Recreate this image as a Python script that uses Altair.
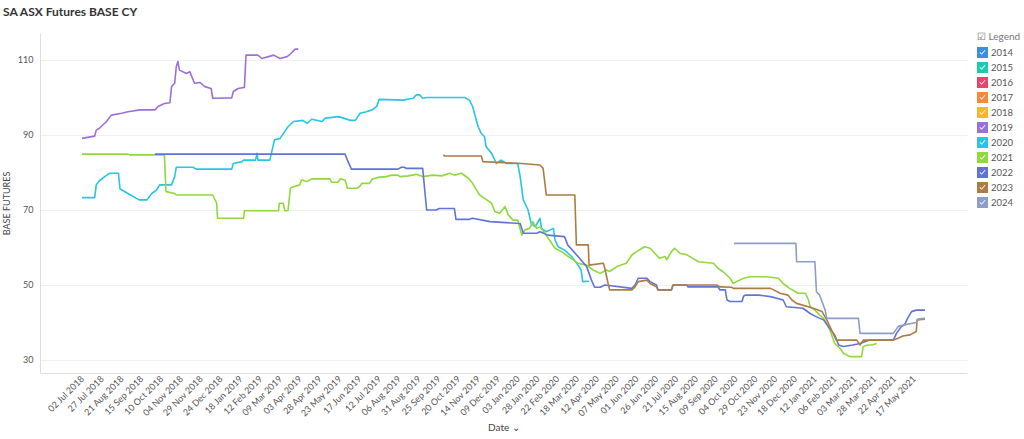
import altair as alt
import pandas as pd

YEARS = ["2014", "2015", "2016", "2017", "2018", "2019", "2020", "2021", "2022", "2023", "2024"]
COLORS = ["#3a8ee6", "#1fc9b0", "#e8456b", "#f58a3c", "#fbb626", "#9b70d8",
          "#26c6e4", "#8fd93e", "#6273d8", "#ad7c45", "#8d9dc7"]

TICK_LABELS = ["2018-07-02", "2018-07-27", "2018-08-21", "2018-09-15", "2018-10-10", "2018-11-04",
               "2018-11-29", "2018-12-24", "2019-01-18", "2019-02-12", "2019-03-09", "2019-04-03",
               "2019-04-28", "2019-05-23", "2019-06-17", "2019-07-12", "2019-08-06", "2019-08-31",
               "2019-09-25", "2019-10-20", "2019-11-14", "2019-12-09", "2020-01-03", "2020-01-28",
               "2020-02-22", "2020-03-18", "2020-04-12", "2020-05-07", "2020-06-01", "2020-06-26",
               "2020-07-21", "2020-08-15", "2020-09-09", "2020-10-04", "2020-10-29", "2020-11-23",
               "2020-12-18", "2021-01-12", "2021-02-06", "2021-03-03", "2021-03-28", "2021-04-22",
               "2021-05-17"]
Y_TICKS = [30, 50, 70, 90, 110]

S2019 = [("2018-07-02", 89.1), ("2018-07-18", 89.7), ("2018-07-20", 91.3), ("2018-07-24", 91.8),
         ("2018-08-02", 93.6), ("2018-08-08", 95.3), ("2018-08-21", 95.8), ("2018-08-29", 96.2),
         ("2018-09-13", 96.7), ("2018-10-02", 96.7), ("2018-10-06", 97.6), ("2018-10-14", 98.4),
         ("2018-10-21", 98.6), ("2018-10-23", 102.9), ("2018-10-27", 103.8), ("2018-10-29", 108.2),
         ("2018-10-31", 109.6), ("2018-11-02", 107.3), ("2018-11-11", 106.4), ("2018-11-15", 106.9),
         ("2018-11-21", 103.8), ("2018-11-28", 104.0), ("2018-12-04", 102.9), ("2018-12-12", 102.4),
         ("2018-12-14", 99.8), ("2019-01-07", 99.9), ("2019-01-09", 101.6), ("2019-01-15", 102.4),
         ("2019-01-23", 102.7), ("2019-01-25", 111.3), ("2019-02-09", 111.3), ("2019-02-14", 110.4),
         ("2019-03-01", 111.3), ("2019-03-09", 110.4), ("2019-03-18", 110.9), ("2019-03-22", 111.6),
         ("2019-03-28", 112.9), ("2019-04-01", 112.9)]

S2020 = [("2018-07-02", 73.3), ("2018-07-18", 73.3), ("2018-07-20", 76.7), ("2018-07-24", 77.8),
         ("2018-08-01", 79.1), ("2018-08-06", 79.8), ("2018-08-17", 79.8), ("2018-08-19", 75.6),
         ("2018-08-29", 74.4), ("2018-09-12", 72.7), ("2018-09-22", 72.7), ("2018-09-28", 74.4),
         ("2018-10-04", 75.3), ("2018-10-08", 76.7), ("2018-10-23", 76.7), ("2018-10-27", 78.9),
         ("2018-10-29", 81.4), ("2018-11-19", 81.4), ("2018-11-23", 80.9), ("2019-01-07", 80.9),
         ("2019-01-09", 82.4), ("2019-01-20", 82.9), ("2019-01-22", 83.3), ("2019-02-06", 83.3),
         ("2019-02-08", 85.1), ("2019-02-09", 83.3), ("2019-02-24", 83.3), ("2019-02-26", 85.1),
         ("2019-03-02", 88.7), ("2019-03-09", 89.1), ("2019-03-19", 92.2), ("2019-03-26", 93.6),
         ("2019-04-07", 93.9), ("2019-04-12", 93.1), ("2019-04-18", 94.2), ("2019-05-01", 93.6),
         ("2019-05-05", 94.5), ("2019-05-22", 94.9), ("2019-06-06", 93.9), ("2019-06-12", 93.9),
         ("2019-06-18", 95.8), ("2019-06-26", 96.2), ("2019-07-03", 96.7), ("2019-07-09", 97.6),
         ("2019-07-12", 99.5), ("2019-08-11", 99.3), ("2019-08-24", 99.8), ("2019-08-28", 100.7),
         ("2019-09-01", 100.7), ("2019-09-05", 99.8), ("2019-09-10", 100.0), ("2019-10-28", 100.0),
         ("2019-11-03", 99.3), ("2019-11-07", 97.6), ("2019-11-14", 92.2), ("2019-11-18", 90.4),
         ("2019-11-22", 89.6), ("2019-11-24", 86.9), ("2019-12-01", 85.1), ("2019-12-07", 82.4),
         ("2019-12-13", 83.3), ("2019-12-20", 82.4), ("2020-01-03", 82.4), ("2020-01-06", 78.9),
         ("2020-01-10", 72.7), ("2020-01-16", 70.0), ("2020-01-20", 66.4), ("2020-01-25", 65.5),
         ("2020-01-31", 67.8), ("2020-02-02", 65.1), ("2020-02-08", 64.2), ("2020-02-17", 65.1),
         ("2020-02-19", 62.0), ("2020-02-23", 60.2), ("2020-03-02", 59.3), ("2020-03-11", 57.6),
         ("2020-03-19", 55.3), ("2020-03-23", 54.0), ("2020-03-25", 50.9), ("2020-04-02", 51.0)]

S2021 = [("2018-07-02", 84.9), ("2018-08-29", 84.9), ("2018-08-31", 84.7), ("2018-10-14", 84.7),
         ("2018-10-16", 74.9), ("2018-10-27", 74.4), ("2018-10-29", 74.0), ("2018-12-14", 74.0),
         ("2018-12-19", 71.8), ("2018-12-20", 67.8), ("2019-01-22", 67.8), ("2019-01-23", 69.8),
         ("2019-03-07", 69.8), ("2019-03-08", 71.8), ("2019-03-13", 71.8), ("2019-03-15", 69.8),
         ("2019-03-19", 69.8), ("2019-03-22", 75.8), ("2019-03-26", 76.2), ("2019-04-03", 76.7),
         ("2019-04-05", 78.0), ("2019-04-12", 77.6), ("2019-04-18", 78.3), ("2019-05-11", 78.3),
         ("2019-05-13", 77.4), ("2019-05-21", 77.4), ("2019-05-24", 78.3), ("2019-05-30", 78.0),
         ("2019-06-02", 75.8), ("2019-06-14", 75.8), ("2019-06-18", 76.4), ("2019-06-20", 77.1),
         ("2019-06-30", 77.1), ("2019-07-03", 78.2), ("2019-07-11", 78.7), ("2019-07-21", 78.9),
         ("2019-07-28", 79.3), ("2019-08-05", 79.3), ("2019-08-07", 78.9), ("2019-08-18", 79.1),
         ("2019-08-28", 79.5), ("2019-09-05", 78.9), ("2019-09-18", 79.3), ("2019-09-29", 79.1),
         ("2019-10-09", 79.8), ("2019-10-15", 79.3), ("2019-10-24", 79.8), ("2019-11-02", 78.4),
         ("2019-11-07", 77.1), ("2019-11-12", 75.3), ("2019-11-16", 74.0), ("2019-11-22", 73.1),
         ("2019-12-01", 71.8), ("2019-12-05", 69.6), ("2019-12-11", 69.1), ("2019-12-16", 70.4),
         ("2019-12-18", 70.9), ("2019-12-22", 68.7), ("2019-12-28", 67.3), ("2020-01-03", 67.3),
         ("2020-01-08", 63.3), ("2020-01-12", 64.7), ("2020-01-18", 65.1), ("2020-01-22", 66.9),
         ("2020-01-27", 65.1), ("2020-01-31", 65.5), ("2020-02-06", 63.8), ("2020-02-12", 62.0),
         ("2020-02-19", 59.8), ("2020-02-27", 58.9), ("2020-03-04", 58.0), ("2020-03-13", 56.7),
         ("2020-03-19", 55.8), ("2020-03-30", 55.3), ("2020-04-07", 54.0), ("2020-04-16", 53.1),
         ("2020-04-24", 54.0), ("2020-04-28", 53.6), ("2020-05-07", 54.9), ("2020-05-19", 55.8),
         ("2020-05-26", 58.0), ("2020-06-01", 58.9), ("2020-06-11", 60.2), ("2020-06-18", 59.8),
         ("2020-06-26", 58.0), ("2020-06-30", 57.1), ("2020-07-07", 57.6), ("2020-07-09", 56.7),
         ("2020-07-15", 58.9), ("2020-07-19", 59.8), ("2020-07-26", 58.4), ("2020-08-03", 58.1),
         ("2020-08-11", 57.1), ("2020-08-18", 56.2), ("2020-09-06", 55.8), ("2020-09-12", 54.4),
         ("2020-09-18", 53.6), ("2020-09-27", 51.8), ("2020-10-01", 50.4), ("2020-10-05", 50.9),
         ("2020-10-14", 51.8), ("2020-10-22", 52.2), ("2020-11-12", 52.2), ("2020-11-27", 51.8),
         ("2020-12-03", 50.4), ("2020-12-11", 49.1), ("2020-12-22", 47.8), ("2020-12-31", 47.8),
         ("2021-01-04", 46.0), ("2021-01-06", 44.2), ("2021-01-14", 42.9), ("2021-01-18", 42.0),
         ("2021-01-23", 41.1), ("2021-01-31", 38.0), ("2021-02-06", 34.4), ("2021-02-13", 33.1),
         ("2021-02-17", 31.8), ("2021-02-25", 30.9), ("2021-03-12", 30.9), ("2021-03-14", 33.6),
         ("2021-03-20", 34.0), ("2021-03-25", 34.0), ("2021-03-31", 34.4)]

S2022 = [("2018-10-02", 84.9), ("2019-05-30", 84.9), ("2019-06-02", 83.3), ("2019-06-07", 80.9),
         ("2019-08-05", 80.9), ("2019-08-09", 81.4), ("2019-08-13", 81.4), ("2019-08-15", 81.1),
         ("2019-09-05", 81.1), ("2019-09-08", 74.4), ("2019-09-10", 70.0), ("2019-09-22", 70.0),
         ("2019-09-26", 70.4), ("2019-10-15", 70.4), ("2019-10-17", 67.5), ("2019-11-03", 67.5),
         ("2019-11-07", 67.8), ("2019-11-29", 66.9), ("2020-01-06", 66.4), ("2020-01-10", 63.8),
         ("2020-01-27", 63.8), ("2020-01-31", 64.2), ("2020-02-10", 63.3), ("2020-03-02", 62.9),
         ("2020-03-06", 60.7), ("2020-03-19", 57.6), ("2020-03-30", 54.9), ("2020-04-05", 51.3),
         ("2020-04-09", 49.4), ("2020-04-16", 49.4), ("2020-04-22", 50.0), ("2020-05-26", 49.1),
         ("2020-05-30", 50.0), ("2020-06-03", 51.8), ("2020-06-14", 51.8), ("2020-06-18", 50.9),
         ("2020-06-26", 50.0), ("2020-06-28", 48.7), ("2020-07-15", 48.7), ("2020-07-17", 50.0),
         ("2020-08-03", 50.0), ("2020-08-05", 49.5), ("2020-09-12", 49.5), ("2020-09-14", 48.7),
         ("2020-09-21", 48.7), ("2020-09-23", 46.0), ("2020-09-27", 45.6), ("2020-10-12", 45.6),
         ("2020-10-14", 47.0), ("2020-10-16", 47.3), ("2020-11-02", 47.3), ("2020-11-17", 46.9),
         ("2020-12-03", 46.0), ("2020-12-07", 44.2), ("2020-12-28", 43.8), ("2021-01-06", 42.4),
         ("2021-01-14", 41.5), ("2021-01-23", 40.7), ("2021-01-29", 38.9), ("2021-02-06", 36.7),
         ("2021-02-11", 34.0), ("2021-02-17", 33.6), ("2021-03-01", 34.0), ("2021-03-10", 34.4),
         ("2021-03-22", 35.3), ("2021-04-21", 35.3), ("2021-04-25", 37.1), ("2021-05-01", 38.9),
         ("2021-05-05", 39.3), ("2021-05-09", 41.1), ("2021-05-14", 42.9), ("2021-05-20", 43.3),
         ("2021-05-31", 43.3)]

S2023 = [("2019-10-01", 84.7), ("2019-10-03", 84.4), ("2019-11-18", 84.4), ("2019-11-20", 82.9),
         ("2020-01-08", 82.4), ("2020-01-31", 82.0), ("2020-02-04", 81.1), ("2020-02-08", 74.0),
         ("2020-03-15", 74.0), ("2020-03-17", 60.7), ("2020-04-01", 60.7), ("2020-04-02", 55.3),
         ("2020-04-20", 55.8), ("2020-04-22", 54.4), ("2020-04-26", 50.4), ("2020-04-28", 48.7),
         ("2020-05-26", 48.7), ("2020-05-30", 49.5), ("2020-06-03", 50.9), ("2020-06-14", 51.3),
         ("2020-06-18", 50.4), ("2020-06-26", 49.5), ("2020-06-28", 48.7), ("2020-07-15", 48.7),
         ("2020-07-17", 50.0), ("2020-09-10", 50.0), ("2020-09-14", 49.5), ("2020-09-29", 49.4),
         ("2020-10-01", 49.1), ("2020-11-17", 49.1), ("2020-11-21", 48.7), ("2020-11-29", 47.8),
         ("2020-12-09", 47.3), ("2020-12-14", 46.0), ("2020-12-20", 45.1), ("2021-01-10", 43.8),
         ("2021-01-21", 42.9), ("2021-01-27", 40.7), ("2021-01-31", 38.9), ("2021-02-04", 37.1),
         ("2021-02-08", 35.3), ("2021-03-06", 35.3), ("2021-03-10", 34.0), ("2021-03-14", 35.3),
         ("2021-04-21", 35.3), ("2021-04-27", 35.8), ("2021-05-03", 36.4), ("2021-05-12", 36.7),
         ("2021-05-20", 37.6), ("2021-05-21", 40.7), ("2021-05-31", 40.9)]

S2024 = [("2020-10-02", 61.1), ("2020-12-19", 61.1), ("2020-12-20", 56.2), ("2021-01-12", 56.2),
         ("2021-01-14", 48.2), ("2021-01-18", 47.3), ("2021-01-21", 45.6), ("2021-01-25", 43.3),
         ("2021-01-27", 41.1), ("2021-03-08", 41.1), ("2021-03-10", 37.1), ("2021-04-21", 37.1),
         ("2021-04-27", 38.9), ("2021-05-03", 39.3), ("2021-05-20", 40.0), ("2021-05-22", 40.9),
         ("2021-05-31", 41.1)]

SERIES = {"2019": S2019, "2020": S2020, "2021": S2021, "2022": S2022, "2023": S2023, "2024": S2024}

rows = []
for year, pts in SERIES.items():
    for d, v in pts:
        rows.append({"year": year, "date": d, "value": v})
df = pd.DataFrame(rows)

tick_ms = [int(pd.Timestamp(t, tz="UTC").value // 10**6) for t in TICK_LABELS]
dom = [int(pd.Timestamp("2018-05-10", tz="UTC").value // 10**6),
       int(pd.Timestamp("2021-07-23", tz="UTC").value // 10**6)]

CHECK_PATH = ("M-1,-1H1V1H-1Z "
              "M-0.55,0L-0.15,0.4L0.55,-0.4L0.45,-0.5L-0.15,0.2L-0.45,-0.1Z")

FONT = "Lato"

color_scale = alt.Scale(domain=YEARS, range=COLORS)
legend = alt.Legend(title="\u2611 Legend", orient="none", legendX=937, legendY=-1,
                    symbolType=CHECK_PATH, symbolSize=121, symbolStrokeWidth=0,
                    symbolOpacity=1,
                    labelFontSize=9.5, labelColor="#555", titleFontSize=10,
                    titleFontWeight="normal", titleColor="#777",
                    rowPadding=4, titlePadding=5, labelOffset=3)

x_enc = alt.X("date:T",
              scale=alt.Scale(type="utc", domain=dom, nice=False),
              axis=alt.Axis(values=tick_ms, labelAngle=-45, labelAlign="right",
                            labelBaseline="middle",
                            labelExpr="utcFormat(datum.value, '%d %b %Y')",
                            labelFontSize=9, labelColor="#555", labelPadding=4,
                            ticks=False, grid=False, domainColor="#dddddd",
                            title="Date \u2304", titleFontSize=10, titleFontWeight="normal",
                            titleColor="#444", titlePadding=4, labelOverlap=False))
y_enc = alt.Y("value:Q",
              scale=alt.Scale(domain=[26.53, 117.2], nice=False, zero=False),
              axis=alt.Axis(values=Y_TICKS, ticks=False, labelPadding=7, labelFontSize=9,
                            labelColor="#555", gridColor="#efefef", domainColor="#dddddd",
                            title="BASE FUTURES", titleFontSize=9, titleFontWeight="normal",
                            titleColor="#444", titlePadding=6))

base = alt.Chart(df)

legend_layer = base.transform_filter("false").mark_point(filled=True, opacity=1).encode(
    x=x_enc, y=y_enc,
    fill=alt.Fill("year:N", scale=color_scale, legend=legend),
)

lines = base.mark_line(strokeWidth=1.6, strokeJoin="round").encode(
    x=x_enc, y=y_enc,
    stroke=alt.Stroke("year:N", scale=color_scale, legend=None),
    detail="year:N",
    order="date:T",
)

chart = alt.layer(legend_layer, lines).properties(
    width=927, height=340,
    title=alt.TitleParams("SA ASX Futures BASE CY", anchor="start", frame="group", dx=-37,
                          offset=13, fontSize=12, fontWeight="bold", color="#333", font=FONT),
    autosize=alt.AutoSizeParams(type="none"),
    padding={"left": 40, "top": 33, "right": 57, "bottom": 66},
).resolve_scale(fill="independent", stroke="independent").configure(font=FONT).configure_view(
    stroke=None).configure_axis(labelFont=FONT, titleFont=FONT)

chart.save("out.html", embed_options={"renderer": "svg", "actions": False})
